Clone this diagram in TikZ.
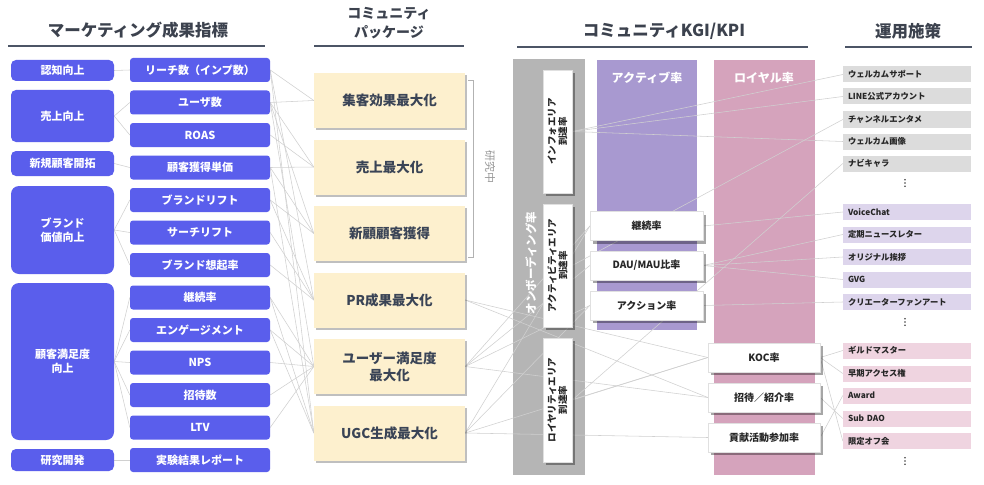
\documentclass[tikz,border=0pt]{standalone}
\usepackage{fontspec}
\setmainfont{Noto Sans CJK JP}
\usetikzlibrary{shadows}
\definecolor{blueC}{RGB}{90,94,236}
\definecolor{yelC}{RGB}{253,240,206}
\definecolor{headC}{RGB}{60,66,78}
\definecolor{ruleC}{RGB}{76,85,102}
\definecolor{panelC}{RGB}{181,181,181}
\definecolor{purC}{RGB}{168,153,208}
\definecolor{pinkC}{RGB}{213,163,188}
\definecolor{greyBox}{RGB}{220,220,220}
\definecolor{lavBox}{RGB}{221,213,236}
\definecolor{pinkBox}{RGB}{239,212,224}
\definecolor{lineC}{RGB}{208,208,208}
\definecolor{yelText}{RGB}{58,68,86}
\pgfdeclarelayer{back}
\pgfdeclarelayer{mid}
\pgfsetlayers{back,mid,main}
\tikzset{
  bluebox/.style={fill=blueC, rounded corners=5pt, text=white, align=center, inner sep=0pt,
    font=\bfseries\fontsize{11}{13.5}\selectfont},
  c1/.style={bluebox, minimum width=103pt},
  c2/.style={bluebox, minimum width=140pt, minimum height=24pt, rounded corners=3pt},
  yelbox/.style={fill=yelC, minimum width=151pt, minimum height=55pt, inner sep=0pt, align=center,
    text=yelText, font=\bfseries\fontsize{13.5}{17}\selectfont,
    drop shadow={shadow xshift=1.5pt, shadow yshift=-2pt, fill=black, opacity=0.25}},
  whitebox/.style={fill=white, draw=black!12, inner sep=0pt, align=center, text=black!85,
    font=\bfseries\fontsize{10}{11.5}\selectfont,
    drop shadow={shadow xshift=3pt, shadow yshift=-3pt, fill=black, opacity=0.35}},
  kbox/.style={whitebox, minimum height=29pt},
  rbox/.style={minimum width=128pt, minimum height=16pt, inner xsep=0pt, inner ysep=0pt,
    text width=118pt, align=left, text=black!85, font=\bfseries\fontsize{8.3}{9.5}\selectfont},
  head/.style={text=headC, font=\bfseries\fontsize{16.5}{20}\selectfont, align=center},
  rule/.style={draw=ruleC, line width=2pt},
  conn/.style={draw=lineC, line width=0.55pt},
  vdots/.style={fill=black!75, circle, inner sep=0pt, minimum size=1.8pt}
}
\begin{document}
\begin{tikzpicture}[x=1pt,y=-1pt]
\useasboundingbox (0,0) rectangle (984,484);

% background panels
\begin{pgfonlayer}{back}
\fill[white] (0,0) rectangle (984,484);
\fill[panelC] (513,59) rectangle (585,475);
\fill[purC] (597,60) rectangle (697,330);
\fill[pinkC] (714,60) rectangle (815,475);
\end{pgfonlayer}

% headings
\node[head] (h1) at (138,30) {マーケティング成果指標};
\draw[rule] (8,46) -- (265,46);
\node[head, font=\bfseries\fontsize{14}{19.5}\selectfont] (h2) at (389,23) {コミュニティ\\パッケージ};
\draw[rule] (314,46) -- (464,46);
\node[head] (h3) at (664,31) {コミュニティKGI/KPI};
\draw[rule] (517,47) -- (808,47);
\node[head] (h4) at (908,31) {運用施策};
\draw[rule] (845,47) -- (972,47);

\node[text=white, font=\bfseries\fontsize{12}{14}\selectfont] (tact) at (647,78) {アクティブ率};
\node[text=white, font=\bfseries\fontsize{12}{14}\selectfont] (troy) at (764,78) {ロイヤル率};
\node[rotate=90, text=white, font=\bfseries\fontsize{11.5}{13}\selectfont] (tonb) at (531,263) {オンボーディング率};

% column 1
\node[c1, minimum height=21pt] (m1) at (62.5,70.5) {認知向上};
\node[c1, minimum height=52pt] (m2) at (62.5,116) {売上向上};
\node[c1, minimum height=25pt] (m3) at (62.5,163.5) {新規顧客開拓};
\node[c1, minimum height=88pt, rounded corners=8pt] (m4) at (62.5,230) {ブランド\\価値向上};
\node[c1, minimum height=157pt, rounded corners=8pt] (m5) at (62.5,361.5) {顧客満足度\\向上};
\node[c1, minimum height=22pt] (m6) at (62.5,460) {研究開発};

% column 2
\node[c2] (r1) at (200,70) {リーチ数（インプ数）};
\node[c2] (r2) at (200,102.5) {ユーザ数};
\node[c2] (r3) at (200,135) {ROAS};
\node[c2] (r4) at (200,167.5) {顧客獲得単価};
\node[c2] (r5) at (200,200) {ブランドリフト};
\node[c2] (r6) at (200,232.5) {サーチリフト};
\node[c2] (r7) at (200,265) {ブランド想起率};
\node[c2] (r8) at (200,297.5) {継続率};
\node[c2] (r9) at (200,330) {エンゲージメント};
\node[c2] (r10) at (200,362.5) {NPS};
\node[c2] (r11) at (200,395) {招待数};
\node[c2] (r12) at (200,427.5) {LTV};
\node[c2] (r13) at (200,460) {実験結果レポート};

% column 3
\node[yelbox] (y1) at (389.5,100.5) {集客効果最大化};
\node[yelbox] (y2) at (389.5,167) {売上最大化};
\node[yelbox] (y3) at (389.5,233.5) {新顧顧客獲得};
\node[yelbox] (y4) at (389.5,300) {PR成果最大化};
\node[yelbox] (y5) at (389.5,366.5) {ユーザー満足度\\最大化};
\node[yelbox] (y6) at (389.5,433) {UGC生成最大化};

% bracket
\draw[draw=black!30, line width=0.6pt] (468,80) -- (473,80) -- (473,257) -- (468,257);
\node[rotate=-90, text=black!40, font=\fontsize{11}{13}\selectfont] (lab) at (490,167) {研究中};

% onboarding boxes
\node[whitebox, minimum width=29pt, minimum height=123pt] (o1) at (557.5,131.5) {};
\node[whitebox, minimum width=29pt, minimum height=123pt] (o2) at (557.5,265.5) {};
\node[whitebox, minimum width=29pt, minimum height=124pt] (o3) at (557.5,400) {};
\node[rotate=90, align=center, text=black!85, font=\bfseries\fontsize{9.5}{11}\selectfont] at (o1) {インフォエリア\\到達率};
\node[rotate=90, align=center, text=black!85, font=\bfseries\fontsize{9.5}{11}\selectfont] at (o2) {アクティビティエリア\\到達率};
\node[rotate=90, align=center, text=black!85, font=\bfseries\fontsize{9.5}{11}\selectfont] at (o3) {ロイヤリティエリア\\到達率};

% KPI boxes
\node[kbox, minimum width=113pt] (a1) at (646.5,226) {継続率};
\node[kbox, minimum width=113pt] (a2) at (646.5,265.5) {DAU/MAU比率};
\node[kbox, minimum width=113pt] (a3) at (646.5,305.5) {アクション率};
\node[kbox, minimum width=112pt] (k1) at (764,357.5) {KOC率};
\node[kbox, minimum width=112pt] (k2) at (764,397.5) {招待／紹介率};
\node[kbox, minimum width=112pt] (k3) at (764,437.5) {貢献活動参加率};

% right column
\node[rbox, fill=greyBox] (p1) at (907,74.5) {ウェルカムサポート};
\node[rbox, fill=greyBox] (p2) at (907,96.5) {LINE公式アカウント};
\node[rbox, fill=greyBox] (p3) at (907,119.5) {チャンネルエンタメ};
\node[rbox, fill=greyBox] (p4) at (907,141.5) {ウェルカム画像};
\node[rbox, fill=greyBox] (p5) at (907,163.5) {ナビキャラ};
\node[rbox, fill=lavBox] (q1) at (907,212) {VoiceChat};
\node[rbox, fill=lavBox] (q2) at (907,234.5) {定期ニュースレター};
\node[rbox, fill=lavBox] (q3) at (907,257) {オリジナル挨拶};
\node[rbox, fill=lavBox] (q4) at (907,279.5) {GVG};
\node[rbox, fill=lavBox] (q5) at (907,302) {クリエーターファンアート};
\node[rbox, fill=pinkBox] (s1) at (907,350.5) {ギルドマスター};
\node[rbox, fill=pinkBox] (s2) at (907,373.5) {早期アクセス権};
\node[rbox, fill=pinkBox] (s3) at (907,395.5) {Award};
\node[rbox, fill=pinkBox] (s4) at (907,418.5) {Sub DAO};
\node[rbox, fill=pinkBox] (s5) at (907,441) {限定オフ会};

% vertical dots
\foreach \yy [count=\i] in {183,322,461}{
  \node[vdots] (d\i a) at (905,\yy-3.2) {};
  \node[vdots] (d\i b) at (905,\yy) {};
  \node[vdots] (d\i c) at (905,\yy+3.2) {};
}

% connectors
\begin{pgfonlayer}{mid}
\path[conn] (m1.east) -- (r1.west);
\path[conn] (m2.east) -- (r2.west);
\path[conn] (m2.east) -- (r3.west);
\path[conn] (m3.east) -- (r4.west);
\foreach \t in {r5,r6,r7} \path[conn] (m4.east) -- (\t.west);
\foreach \t in {r8,r9,r10,r11,r12} \path[conn] (m5.east) -- (\t.west);
\path[conn] (m6.east) -- (r13.west);
% col2 -> col3
\foreach \s/\t in {r1/y1,r1/y4,r1/y6,r2/y1,r2/y2,r2/y3,r2/y5,r3/y2,r4/y2,r4/y3,r4/y6,
  r5/y4,r5/y3,r6/y4,r7/y4,r8/y5,r8/y6,r9/y5,r9/y6,r10/y5,r11/y5,r12/y5}
  \path[conn] (\s.east) -- (\t.west);
% col3 -> KPI
\foreach \s/\t in {y4/k1,y4/k2,y5/a1,y5/a2,y5/a3,y5/k2,y6/a1,y6/a3,y6/k1,y6/k3}
  \path[conn] (\s.east) -- (\t.west);
% onboarding -> right
\foreach \t in {p1,p2,p4} \path[conn] (o1.east) -- (\t.west);
\path[conn] (o2.east) -- (p3.west);
\path[conn] (o3.east) -- (p5.west);
\path[conn] (o3.east) -- (k1.west);
% KPI -> right
\path[conn] (a1.east) -- (q1.west);
\foreach \t in {q2,q3,q4} \path[conn] (a2.east) -- (\t.west);
\path[conn] (a3.east) -- (q5.west);
\foreach \t in {s1,s2,s5} \path[conn] (k1.east) -- (\t.west);
\path[conn] (k2.east) -- (s4.west);
\path[conn] (k3.east) -- (s3.west);
\end{pgfonlayer}
\end{tikzpicture}
\end{document}
